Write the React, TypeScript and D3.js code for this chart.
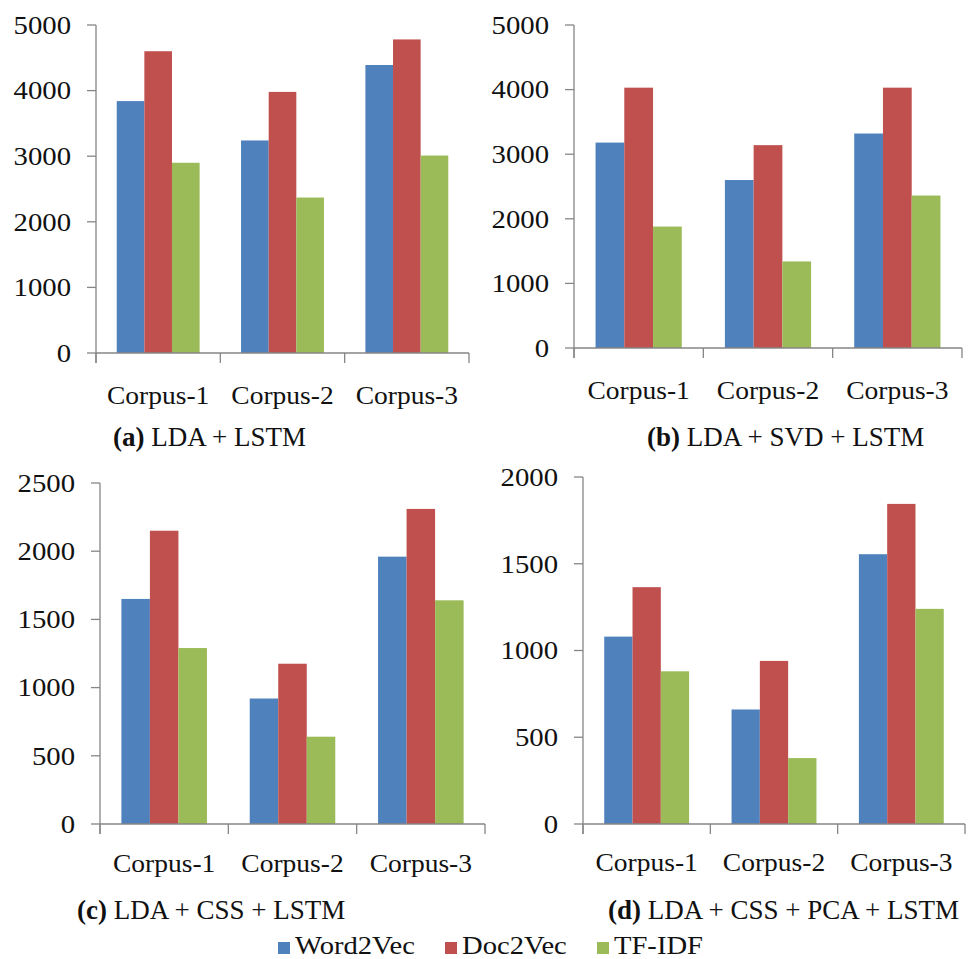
import React from "react";
import * as d3 from "d3";

const categories = ["Corpus-1", "Corpus-2", "Corpus-3"];
const seriesNames = ["Word2Vec", "Doc2Vec", "TF-IDF"];
const seriesColors = ["#4F81BD", "#C0504D", "#9BBB59"];

// (a) LDA + LSTM
const aWord2Vec = [3840, 3240, 4390];
const aDoc2Vec = [4600, 3980, 4780];
const aTfIdf = [2900, 2370, 3010];
// (b) LDA + SVD + LSTM
const bWord2Vec = [3180, 2600, 3320];
const bDoc2Vec = [4030, 3140, 4030];
const bTfIdf = [1880, 1340, 2360];
// (c) LDA + CSS + LSTM
const cWord2Vec = [1650, 920, 1960];
const cDoc2Vec = [2150, 1175, 2310];
const cTfIdf = [1290, 640, 1640];
// (d) LDA + CSS + PCA + LSTM
const dWord2Vec = [1080, 660, 1555];
const dDoc2Vec = [1365, 940, 1845];
const dTfIdf = [880, 380, 1240];

const ticks5000 = [0, 1000, 2000, 3000, 4000, 5000];
const ticks2500 = [0, 500, 1000, 1500, 2000, 2500];
const ticks2000 = [0, 500, 1000, 1500, 2000];

const captionTags = ["(a)", "(b)", "(c)", "(d)"];
const captionTexts = [" LDA + LSTM", " LDA + SVD + LSTM", " LDA + CSS + LSTM", " LDA + CSS + PCA + LSTM"];

const FONT = "'Liberation Serif', 'Times New Roman', serif";
const AXIS = "#868686";

type PanelDef = {
  series: number[][];
  ticks: number[];
  x0: number; x1: number; yTop: number; yBase: number;
  corpusY: number; capX: number; capY: number; tag: string; text: string;
};

const panels: PanelDef[] = [
  { series: [aWord2Vec, aDoc2Vec, aTfIdf], ticks: ticks5000, x0: 96, x1: 469, yTop: 25, yBase: 353, corpusY: 404, capX: 113, capY: 446, tag: captionTags[0], text: captionTexts[0] },
  { series: [bWord2Vec, bDoc2Vec, bTfIdf], ticks: ticks5000, x0: 574, x1: 962, yTop: 25, yBase: 348, corpusY: 399, capX: 647, capY: 446, tag: captionTags[1], text: captionTexts[1] },
  { series: [cWord2Vec, cDoc2Vec, cTfIdf], ticks: ticks2500, x0: 100, x1: 485, yTop: 483, yBase: 824, corpusY: 872, capX: 77, capY: 919, tag: captionTags[2], text: captionTexts[2] },
  { series: [dWord2Vec, dDoc2Vec, dTfIdf], ticks: ticks2000, x0: 583, x1: 965, yTop: 477, yBase: 824, corpusY: 871, capX: 608, capY: 919, tag: captionTags[3], text: captionTexts[3] },
];

function Panel({ p }: { p: PanelDef }) {
  const max = p.ticks[p.ticks.length - 1];
  const x = d3.scaleBand<string>().domain(categories).range([p.x0, p.x1]).paddingInner(0).paddingOuter(0);
  const xs = d3.scaleBand<string>().domain(seriesNames).range([0, x.bandwidth()]).paddingInner(0).paddingOuter(0.75);
  const y = d3.scaleLinear().domain([0, max]).range([p.yBase, p.yTop]);
  const bounds = [...categories.map((c) => x(c) as number), p.x1];
  return (
    <g>
      {p.series.map((vals, si) =>
        vals.map((v, ci) => (
          <rect
            key={`${si}-${ci}`}
            x={(x(categories[ci]) as number) + (xs(seriesNames[si]) as number)}
            y={y(v)}
            width={xs.bandwidth()}
            height={y(0) - y(v)}
            fill={seriesColors[si]}
          />
        ))
      )}
      {/* y axis */}
      <line x1={p.x0} x2={p.x0} y1={y(max)} y2={p.yBase + 10} stroke={AXIS} strokeWidth={1.3} />
      {p.ticks.map((t) => (
        <g key={t}>
          <line x1={p.x0 - 9} x2={p.x0} y1={y(t)} y2={y(t)} stroke={AXIS} strokeWidth={1.3} />
          <text
            transform={`translate(${p.x0 - 25},${y(t)}) scale(1.15,1)`}
            textAnchor="end"
            dy="0.35em"
            fontFamily={FONT}
            fontSize={25}
            fill="#111"
          >
            {t}
          </text>
        </g>
      ))}
      {/* x axis */}
      <line x1={p.x0} x2={p.x1} y1={p.yBase} y2={p.yBase} stroke={AXIS} strokeWidth={1.3} />
      {bounds.map((b, i) => (
        <line key={i} x1={b} x2={b} y1={p.yBase} y2={p.yBase + 10} stroke={AXIS} strokeWidth={1.3} />
      ))}
      {categories.map((c) => (
        <text
          key={c}
          transform={`translate(${(x(c) as number) + x.bandwidth() / 2},${p.corpusY}) scale(1.1,1)`}
          textAnchor="middle"
          fontFamily={FONT}
          fontSize={25}
          fill="#111"
        >
          {c}
        </text>
      ))}
      <text x={p.capX} y={p.capY} fontFamily={FONT} fontSize={27} fill="#111">
        <tspan fontWeight="bold">{p.tag}</tspan>
        <tspan>{p.text}</tspan>
      </text>
    </g>
  );
}

const legendX = [278, 445, 597];

export default function App() {
  return (
    <svg
      width={971}
      height={959}
      style={{ position: "absolute", left: 0, top: 0, background: "#fff" }}
    >
      <rect x={0} y={0} width={971} height={959} fill="#fff" />
      {panels.map((p, i) => (
        <Panel key={i} p={p} />
      ))}
      {seriesNames.map((s, i) => (
        <g key={s}>
          <rect x={legendX[i]} y={942} width={12} height={12} fill={seriesColors[i]} />
          <text
            transform={`translate(${legendX[i] + 17},954) scale(1.1,1)`}
            fontFamily={FONT}
            fontSize={26}
            fill="#111"
          >
            {s}
          </text>
        </g>
      ))}
    </svg>
  );
}
